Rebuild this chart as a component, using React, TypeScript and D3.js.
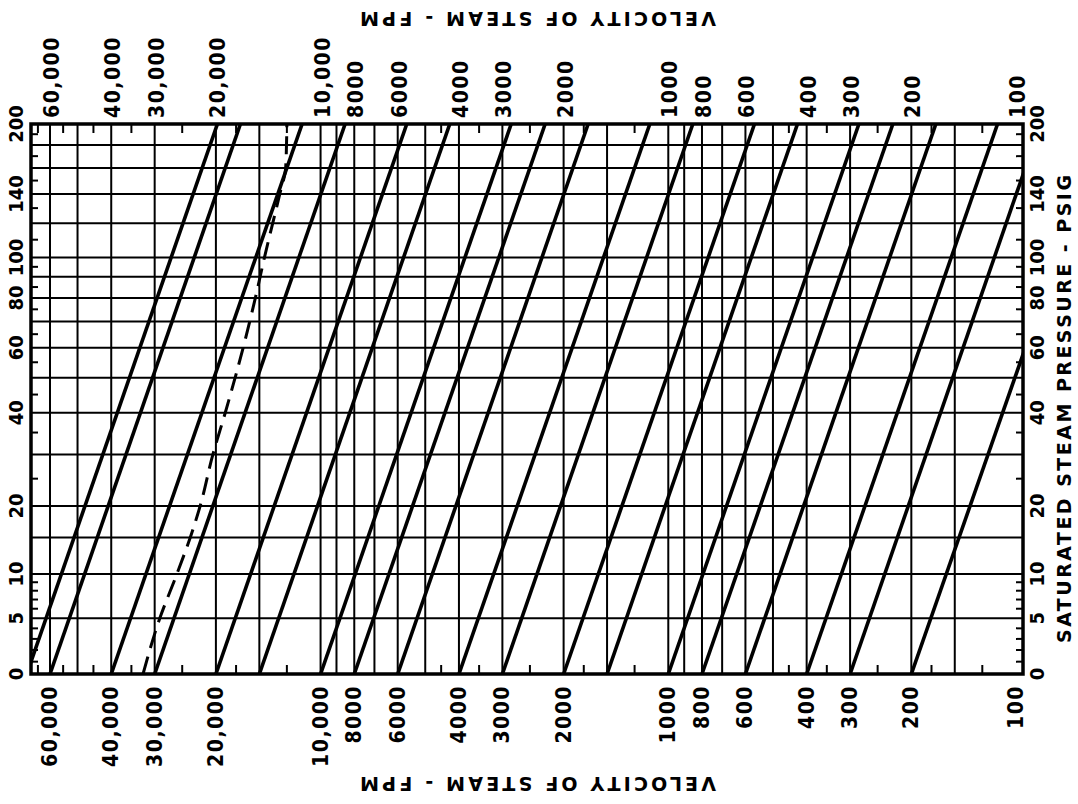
import React from 'react';
import * as d3 from 'd3';

// saturated steam pressure, psig
const pressureGrid = [0, 5, 10, 15, 20, 30, 40, 50, 60, 70, 80, 90, 100, 120, 140, 160, 180, 200];
const pressureLabels = [0, 5, 10, 20, 40, 60, 80, 100, 140, 200];
const pressureTicks = [1, 2, 3, 4, 6, 7, 8, 9, 25, 35, 45, 55, 65, 75, 85, 95, 110, 130, 150, 170, 190];

// velocity of steam, fpm
const velocityGrid = [60000, 50000, 40000, 30000, 20000, 15000, 10000, 9000, 8000, 7000, 6000, 5000, 4000, 3000,
  2000, 1500, 1000, 900, 800, 700, 600, 500, 400, 300, 200, 150];
const velocityTicks = [65000, 55000, 45000, 35000, 25000, 17500, 12500, 4500, 3500, 2500, 1750, 1250, 450, 350, 250, 175, 125];
const velocityLabels = [60000, 40000, 30000, 20000, 10000, 8000, 6000, 4000, 3000, 2000, 1000, 800, 600, 400, 300, 200, 100];

// sloped lines: velocity where each one meets 0 psig and 200 psig
const velocityAt0 = [70000, 60000, 40000, 30000, 20000, 15000, 10000, 8000, 6000, 4000, 3000, 2000, 1500, 1000, 800, 600, 400, 300, 200];
const velocityAt200 = [19800, 17000, 11300, 8500, 5650, 4250, 2830, 2260, 1700, 1130, 850, 565, 425, 283, 226, 170, 113, 85, 56];

// dashed curve
const dashPressure = [0, 5, 10, 15, 20, 30, 40, 60, 80, 100, 140, 160, 200];
const dashVelocity = [32400, 29000, 25900, 23700, 22200, 20400, 18800, 16700, 15400, 14500, 13100, 12600, 12500];

const width = 1078;
const height = 804;
const plot = { left: 31, right: 1023, top: 124, bottom: 674 };
const pOffset = 17; // log(psig + offset) fitted to the printed grid

const x = d3.scaleLog().domain([100, 60000]).range([1016, 50]);
const yLog = d3.scaleLog().domain([0 + pOffset, 200 + pOffset]).range([plot.bottom, plot.top]);
const y = (p: number) => yLog(p + pOffset);

const font = '"DejaVu Sans", Verdana, sans-serif';
const narrowFont = '"DejaVu Sans Condensed", "Liberation Sans Narrow", "DejaVu Sans", sans-serif';
const fmtV = (v: number) => (v >= 10000 ? d3.format(',')(v) : String(v));

const dashLine = d3.line<number>()
  .x((d, i) => x(dashVelocity[i]))
  .y(d => y(d))
  .curve(d3.curveMonotoneY);

const App = () => {
  return (
    <svg width={width} height={height} style={{ position: 'absolute', left: 0, top: 0, background: '#fff' }}>
      <defs>
        <clipPath id="plotClip">
          <rect x={plot.left} y={plot.top} width={plot.right - plot.left} height={plot.bottom - plot.top} />
        </clipPath>
      </defs>
      <rect width={width} height={height} fill="#fff" />

      {/* grid */}
      <g stroke="#000" strokeWidth={2}>
        {pressureGrid.map(p => (
          <line key={'h' + p} x1={plot.left} x2={plot.right} y1={y(p)} y2={y(p)} />
        ))}
        {velocityGrid.map(v => (
          <line key={'v' + v} x1={x(v)} x2={x(v)} y1={plot.top} y2={plot.bottom} />
        ))}
      </g>

      {/* short ticks */}
      <g stroke="#000" strokeWidth={2}>
        {pressureTicks.map(p => (
          <g key={'pt' + p}>
            <line x1={plot.left} x2={plot.left + 7} y1={y(p)} y2={y(p)} />
            <line x1={plot.right - 7} x2={plot.right} y1={y(p)} y2={y(p)} />
          </g>
        ))}
        {velocityTicks.map(v => (
          <g key={'vt' + v}>
            <line x1={x(v)} x2={x(v)} y1={plot.bottom} y2={plot.bottom - 9} />
            <line x1={x(v)} x2={x(v)} y1={plot.top} y2={plot.top + 9} />
          </g>
        ))}
      </g>

      {/* sloped lines */}
      <g clipPath="url(#plotClip)" stroke="#000" strokeWidth={3.6} strokeLinecap="butt">
        {velocityAt0.map((v, i) => (
          <line key={'d' + v} x1={x(v)} y1={y(0)} x2={x(velocityAt200[i])} y2={y(200)} />
        ))}
        <path d={dashLine(dashPressure) || ''} fill="none" strokeWidth={3} strokeDasharray="18 9" />
      </g>

      <rect x={plot.left} y={plot.top} width={plot.right - plot.left} height={plot.bottom - plot.top}
        fill="none" stroke="#000" strokeWidth={3.5} />

      {/* velocity labels */}
      <g fontFamily={narrowFont} fontSize={21} fontWeight="bold" letterSpacing={1.5} fill="#000">
        {velocityLabels.map(v => (
          <text key={'bl' + v} transform={`translate(${x(v)},${plot.bottom + 11}) rotate(-90)`}
            textAnchor="end" dominantBaseline="central">{fmtV(v)}</text>
        ))}
        {velocityLabels.map(v => (
          <text key={'tl' + v} transform={`translate(${x(v) + 2},${plot.top - 6}) rotate(-90)`}
            textAnchor="start" dominantBaseline="central">{fmtV(v)}</text>
        ))}
      </g>

      {/* pressure labels */}
      <g fontFamily={narrowFont} fontSize={20} fontWeight="bold" fill="#000">
        {pressureLabels.map(p => (
          <text key={'lp' + p} transform={`translate(16,${y(p)}) rotate(-90)`}
            textAnchor="middle" dominantBaseline="central">{p}</text>
        ))}
        {pressureLabels.map(p => (
          <text key={'rp' + p} transform={`translate(1037,${y(p)}) rotate(-90)`}
            textAnchor="middle" dominantBaseline="central">{p}</text>
        ))}
      </g>

      {/* titles */}
      <g fontFamily={font} fontSize={19} fontWeight="bold" fill="#000">
        <text transform="translate(538,19) rotate(180)" textAnchor="middle" dominantBaseline="central"
          textLength={356} lengthAdjust="spacing">VELOCITY OF STEAM - FPM</text>
        <text transform="translate(538,784) rotate(180)" textAnchor="middle" dominantBaseline="central"
          textLength={356} lengthAdjust="spacing">VELOCITY OF STEAM - FPM</text>
        <text transform="translate(1064,409) rotate(-90)" textAnchor="middle" dominantBaseline="central"
          textLength={468} lengthAdjust="spacing">SATURATED STEAM PRESSURE - PSIG</text>
      </g>
    </svg>
  );
};

export default App;
